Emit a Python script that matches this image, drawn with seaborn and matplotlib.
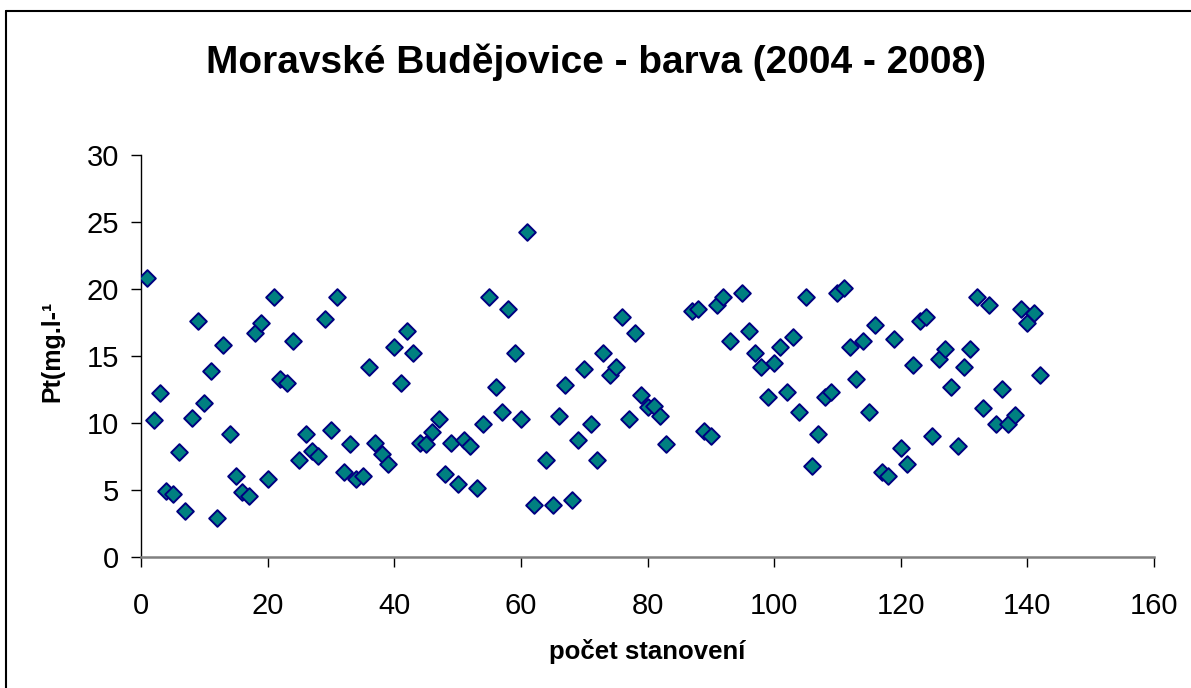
import matplotlib
matplotlib.use("Agg")
import matplotlib.pyplot as plt
import seaborn as sns
import pandas as pd
from matplotlib.lines import Line2D

# ---- data ----
x_vals = (list(range(1, 63)) + list(range(64, 84)) + list(range(87, 94))
          + list(range(95, 143)))
y_vals = [
    20.8, 10.2, 12.2, 4.9, 4.7, 7.85, 3.45, 10.4, 17.6, 11.5,
    13.9, 2.9, 15.8, 9.2, 6.05, 4.85, 4.5, 16.7, 17.5, 5.8,
    19.4, 13.3, 12.95, 16.1, 7.2, 9.2, 7.9, 7.5, 17.8, 9.5,
    19.4, 6.35, 8.4, 5.8, 6.05, 14.2, 8.5, 7.65, 6.9, 15.7,
    12.95, 16.9, 15.2, 8.5, 8.4, 9.3, 10.3, 6.2, 8.5, 5.4,
    8.7, 8.3, 5.1, 9.9, 19.4, 12.65, 10.8, 18.5, 15.2, 10.3,
    24.25, 3.9,
    7.2, 3.9, 10.5, 12.8, 4.25, 8.7, 14.0, 9.95, 7.2, 15.2,
    13.6, 14.2, 17.9, 10.3, 16.7, 12.1, 11.2, 11.3, 10.5, 8.4,
    18.4, 18.55, 9.4, 9.0, 18.8, 19.4, 16.15,
    19.7, 16.9, 15.25, 14.2, 11.9, 14.45, 15.65, 12.3, 16.4, 10.8,
    19.4, 6.8, 9.2, 11.95, 12.3, 19.7, 20.05, 15.65, 13.3, 16.1,
    10.8, 17.3, 6.35, 6.0, 16.3, 8.1, 6.9, 14.3, 17.6, 17.9,
    9.0, 14.75, 15.5, 12.65, 8.3, 14.15, 15.5, 19.4, 11.1, 18.8,
    9.95, 12.5, 9.9, 10.6, 18.55, 17.45, 18.25, 13.6,
]
x_ticks = [0, 20, 40, 60, 80, 100, 120, 140, 160]
y_ticks = [0, 5, 10, 15, 20, 25, 30]
title = "Moravské Budějovice - barva (2004 - 2008)"
x_label = "počet stanovení"
y_label = "Pt(mg.l-¹"

df = pd.DataFrame({"x": x_vals, "y": y_vals})

sns.set_theme(style="white")
plt.rcParams["font.family"] = ["Liberation Sans", "DejaVu Sans"]
plt.rcParams["text.color"] = "black"
plt.rcParams["axes.labelcolor"] = "black"
plt.rcParams["xtick.color"] = "black"
plt.rcParams["ytick.color"] = "black"

W, H = 1191, 688
fig = plt.figure(figsize=(W / 100, H / 100), dpi=100)
fig.patch.set_facecolor("white")

left, right = 141 / W, 1154 / W
bottom, top = 1 - 556.7 / H, 1 - 155.3 / H
ax = fig.add_axes([left, bottom, right - left, top - bottom])

sns.scatterplot(data=df, x="x", y="y", ax=ax, marker="D", s=72,
                color="#008080", edgecolor="#000080", linewidth=1.4,
                zorder=3, legend=False)

ax.set_xlim(0, 160)
ax.set_ylim(0, 30)
ax.set_xticks(x_ticks)
ax.set_yticks(y_ticks)
ax.set_xticklabels([str(t) for t in x_ticks])
ax.set_yticklabels([str(t) for t in y_ticks])

for s in ["top", "right"]:
    ax.spines[s].set_visible(False)
ax.spines["left"].set_color("black")
ax.spines["left"].set_linewidth(1.0)
ax.spines["bottom"].set_color("#808080")
ax.spines["bottom"].set_linewidth(1.8)

ax.tick_params(axis="x", direction="out", length=7.5, width=1.0,
               color="black", labelcolor="black", labelsize=21, pad=18,
               bottom=True)
ax.tick_params(axis="y", direction="out", length=7.5, width=1.0,
               color="black", labelcolor="black", labelsize=21, pad=8.4,
               left=True)
ax.grid(False)

ax.set_xlabel(x_label, fontsize=18.5, fontweight="bold", color="black")
ax.set_ylabel(y_label, fontsize=18, fontweight="bold", color="black")
ax.xaxis.set_label_coords(0.5, (556.7 - 651) / 401.4)
ax.xaxis.label.set_va("center")
ax.yaxis.set_label_coords((52 - 141) / 1013, (556.7 - 351) / 401.4)
ax.yaxis.label.set_va("center")

fig.text(0.5, 1 - 73 / H, title, ha="center", va="baseline",
         fontsize=28, fontweight="bold", color="black")

# outer chart frame (only top and left edges visible in the reference)
fig.add_artist(Line2D([6 / W, 1.0], [1 - 10.5 / H, 1 - 10.5 / H],
                      transform=fig.transFigure, color="black", lw=1.5))
fig.add_artist(Line2D([6 / W, 6 / W], [0.0, 1 - 10.5 / H],
                      transform=fig.transFigure, color="black", lw=1.5))

fig.savefig("out.png", dpi=100, facecolor="white")
